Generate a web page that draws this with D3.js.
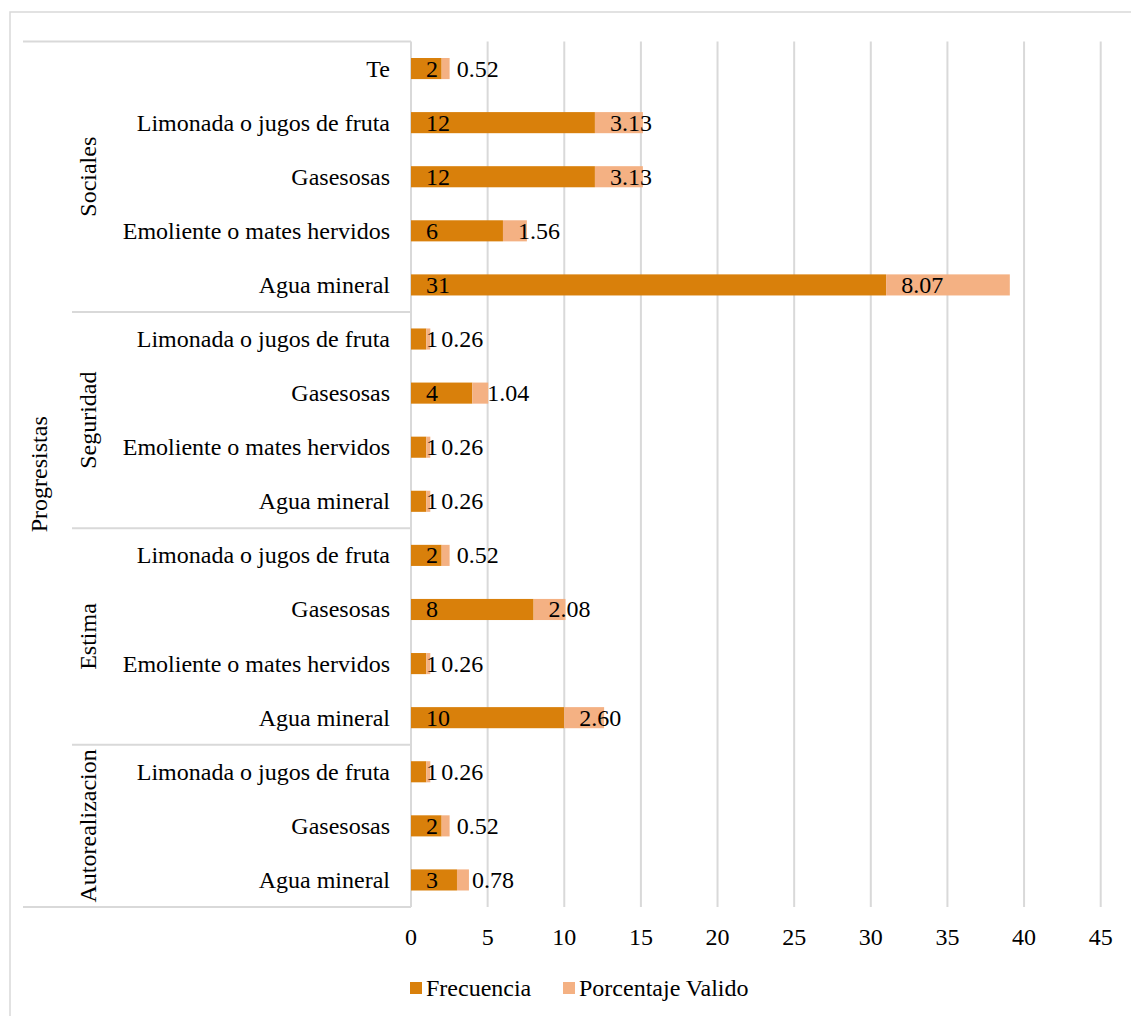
<!DOCTYPE html>
<meta charset="utf-8">
<style>
body { margin: 0; background: #fff; }
text { font-family: "Liberation Serif", "Times New Roman", serif; font-size: 24px; fill: #000; }
.grid line { stroke: #d9d9d9; stroke-width: 2px; }
.cat line { stroke: #d9d9d9; stroke-width: 2px; }
</style>
<body>
<svg width="1131" height="1016"></svg>

<script src="https://d3js.org/d3.v7.min.js"></script>
<script>

// top-to-bottom rows
var groups = ["Sociales", "Seguridad", "Estima", "Autorealizacion"];
var groupItems = [
  ["Te", "Limonada o jugos de fruta", "Gasesosas", "Emoliente o mates hervidos", "Agua mineral"],
  ["Limonada o jugos de fruta", "Gasesosas", "Emoliente o mates hervidos", "Agua mineral"],
  ["Limonada o jugos de fruta", "Gasesosas", "Emoliente o mates hervidos", "Agua mineral"],
  ["Limonada o jugos de fruta", "Gasesosas", "Agua mineral"]
];
var frecuencia = [2, 12, 12, 6, 31, 1, 4, 1, 1, 2, 8, 1, 10, 1, 2, 3];
var porcentaje = [0.52, 3.13, 3.13, 1.56, 8.07, 0.26, 1.04, 0.26, 0.26, 0.52, 2.08, 0.26, 2.60, 0.26, 0.52, 0.78];
var topLevel = "Progresistas";
var seriesNames = ["Frecuencia", "Porcentaje Valido"];
var colors = ["#d9800b", "#f4b183"];
var xTicks = [0, 5, 10, 15, 20, 25, 30, 35, 40, 45];

var rows = [];
groups.forEach(function(g, gi) {
  groupItems[gi].forEach(function(it) {
    var i = rows.length;
    rows.push({id: i, group: g, item: it, Frecuencia: frecuencia[i], "Porcentaje Valido": porcentaje[i]});
  });
});

var svg = d3.select("svg");
var plotL = 411, plotR = 1100.7, plotT = 41.5, plotB = 907;

// outer frame
svg.append("rect")
    .attr("x", 10).attr("y", 12).attr("width", 1140).attr("height", 1020)
    .attr("fill", "none").attr("stroke", "#d9d9d9").attr("stroke-width", 1.5);

var x = d3.scaleLinear().domain([0, 45]).range([plotL, plotR]);
var y = d3.scaleBand().domain(rows.map(function(d) { return d.id; }))
    .range([plotT, plotB]).paddingInner(0.61).paddingOuter(0.305);

// gridlines
svg.append("g").attr("class", "grid")
  .selectAll("line").data(xTicks).enter().append("line")
    .attr("x1", function(d) { return x(d); }).attr("x2", function(d) { return x(d); })
    .attr("y1", plotT).attr("y2", plotB);

// x tick labels
svg.append("g")
  .selectAll("text").data(xTicks).enter().append("text")
    .attr("x", function(d) { return x(d); }).attr("y", 945)
    .attr("text-anchor", "middle")
    .text(function(d) { return d; });

// stacked bars
var stack = d3.stack().keys(seriesNames);
var series = stack(rows);

var layer = svg.append("g").selectAll("g").data(series).enter().append("g")
    .attr("fill", function(d, i) { return colors[i]; });

layer.selectAll("rect").data(function(d) { return d; }).enter().append("rect")
    .attr("x", function(d) { return x(d[0]); })
    .attr("width", function(d) { return x(d[1]) - x(d[0]); })
    .attr("y", function(d) { return y(d.data.id); })
    .attr("height", y.bandwidth());

// data labels (inside base)
series.forEach(function(s, si) {
  svg.append("g").selectAll("text").data(s).enter().append("text")
      .attr("x", function(d) { return x(d[0]) + 15; })
      .attr("y", function(d) { return y(d.data.id) + y.bandwidth() / 2 + 8; })
      .text(function(d) {
        var v = d.data[s.key];
        return si === 0 ? d3.format("d")(v) : d3.format(".2f")(v);
      });
});

// category axis: item labels
var cat = svg.append("g").attr("class", "cat");
cat.selectAll("text.item").data(rows).enter().append("text")
    .attr("class", "item")
    .attr("x", 390)
    .attr("y", function(d) { return y(d.id) + y.bandwidth() / 2 + 8; })
    .attr("text-anchor", "end")
    .text(function(d) { return d.item; });

// group spans
var step = y.step();
var groupSpans = groups.map(function(g) {
  var r = rows.filter(function(d) { return d.group === g; });
  var y0 = y(r[0].id) - step * y.paddingInner() / 2;
  var y1 = y(r[r.length - 1].id) + y.bandwidth() + step * y.paddingInner() / 2;
  return {name: g, y0: y0, y1: y1};
});
groupSpans[0].y0 = plotT;
groupSpans[groupSpans.length - 1].y1 = plotB;

cat.selectAll("line.sep").data(groupSpans.slice(1)).enter().append("line")
    .attr("x1", 72).attr("x2", plotL)
    .attr("y1", function(d) { return d.y0; }).attr("y2", function(d) { return d.y0; });

cat.append("line").attr("x1", 23).attr("x2", plotL).attr("y1", plotT).attr("y2", plotT);
cat.append("line").attr("x1", 23).attr("x2", plotL).attr("y1", plotB).attr("y2", plotB);

cat.selectAll("text.group").data(groupSpans).enter().append("text")
    .attr("class", "group")
    .attr("transform", function(d) { return "translate(96," + (d.y0 + d.y1) / 2 + ") rotate(-90)"; })
    .attr("text-anchor", "middle")
    .text(function(d) { return d.name; });

cat.append("text")
    .attr("transform", "translate(47," + (plotT + plotB) / 2 + ") rotate(-90)")
    .attr("text-anchor", "middle")
    .text(topLevel);

// legend
var legendX = [410, 563];
var legend = svg.append("g").selectAll("g").data(seriesNames).enter().append("g")
    .attr("transform", function(d, i) { return "translate(" + legendX[i] + ",982)"; });
legend.append("rect").attr("width", 12).attr("height", 12)
    .attr("fill", function(d, i) { return colors[i]; });
legend.append("text").attr("x", 16).attr("y", 14).text(function(d) { return d; });

</script>
</body>
